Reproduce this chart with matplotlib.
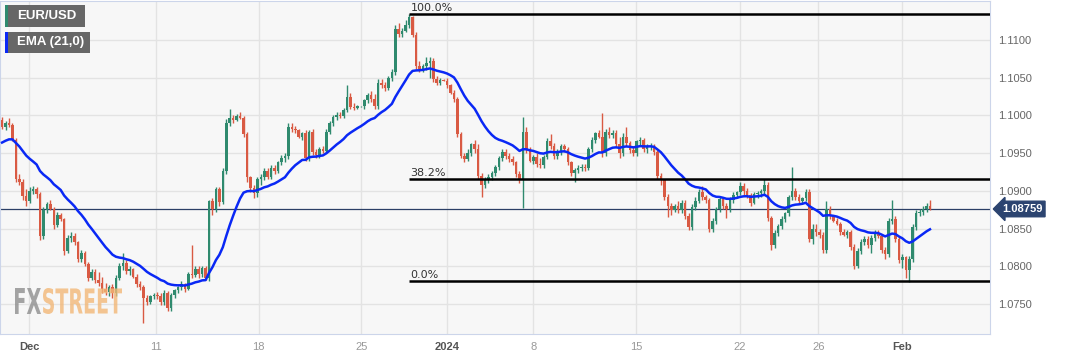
import matplotlib
matplotlib.use("Agg")
import matplotlib.pyplot as plt
import numpy as np
from matplotlib.patches import Rectangle, PathPatch
from matplotlib.textpath import TextPath
from matplotlib.font_manager import FontProperties
from matplotlib.transforms import Affine2D, IdentityTransform

# 4-hour EUR/USD candles, values in pips above 1.0000
opens = [994, 984, 990, 987, 968, 916, 912, 893, 886, 900, 902, 896, 840, 874, 882, 876, 854, 868, 862, 820,
         838, 840, 832, 810, 818, 803, 785, 792, 782, 778, 770, 766, 772, 764, 785, 800, 804, 794, 796, 786,
         776, 772, 758, 752, 760, 762, 760, 752, 765, 745, 762, 768, 772, 776, 770, 790, 788, 796, 790, 797,
         785, 886, 876, 902, 885, 926, 990, 996, 994, 999, 997, 975, 918, 904, 897, 915, 918, 926, 918, 930,
         926, 938, 944, 946, 985, 982, 980, 972, 976, 943, 978, 952, 948, 955, 953, 978, 990, 998, 1001, 999,
         1007, 1024, 1011, 1010, 1012, 1012, 1020, 1027, 1022, 1012, 1043, 1040, 1036, 1050, 1058, 1115, 1108, 1112, 1120, 1130,
         1107, 1066, 1062, 1066, 1070, 1072, 1048, 1043, 1047, 1046, 1040, 1030, 1022, 975, 946, 942, 950, 962, 956, 920,
         908, 914, 918, 924, 931, 944, 952, 946, 942, 938, 922, 914, 978, 954, 940, 945, 936, 934, 945, 966,
         960, 946, 952, 960, 956, 938, 924, 928, 930, 932, 930, 955, 968, 976, 972, 950, 978, 974, 977, 962,
         950, 972, 964, 954, 950, 966, 968, 956, 958, 960, 952, 920, 914, 892, 880, 875, 880, 874, 884, 866,
         852, 878, 887, 898, 892, 888, 850, 860, 876, 889, 880, 876, 888, 895, 898, 906, 900, 894, 884, 896,
         897, 900, 908, 864, 828, 844, 853, 862, 870, 892, 900, 892, 886, 890, 898, 836, 850, 846, 842, 822,
         876, 866, 860, 856, 846, 842, 845, 826, 800, 820, 832, 836, 828, 838, 844, 840, 822, 816, 860, 862,
         836, 808, 812, 795, 810, 852, 870, 872, 876, 880]
highs = [998, 992, 996, 990, 970, 922, 915, 902, 905, 906, 905, 898, 878, 885, 888, 878, 872, 870, 864, 842,
         845, 844, 834, 822, 820, 806, 796, 796, 792, 786, 778, 775, 776, 788, 804, 818, 808, 800, 798, 790,
         780, 775, 762, 762, 764, 766, 764, 768, 767, 765, 770, 774, 780, 778, 792, 828, 800, 800, 800, 800,
         888, 890, 905, 905, 930, 995, 1008, 1000, 1002, 1004, 999, 978, 920, 908, 918, 922, 930, 930, 934, 934,
         940, 948, 950, 990, 990, 986, 982, 978, 980, 980, 982, 956, 958, 960, 982, 992, 1000, 1004, 1005, 1010,
         1040, 1030, 1016, 1014, 1013, 1022, 1030, 1032, 1028, 1048, 1048, 1044, 1052, 1062, 1120, 1122, 1116, 1126, 1134, 1132,
         1110, 1072, 1068, 1078, 1078, 1076, 1052, 1050, 1048, 1050, 1042, 1034, 1024, 978, 950, 955, 964, 968, 962, 924,
         918, 922, 926, 934, 946, 956, 956, 950, 946, 940, 926, 998, 985, 958, 948, 950, 944, 948, 970, 975,
         964, 955, 962, 962, 958, 940, 930, 934, 936, 935, 958, 972, 978, 980, 1003, 982, 984, 980, 980, 972,
         976, 984, 966, 958, 968, 972, 970, 962, 964, 962, 954, 924, 916, 896, 884, 882, 886, 888, 888, 870,
         882, 892, 902, 906, 895, 890, 864, 878, 892, 892, 884, 892, 898, 900, 912, 910, 904, 897, 898, 900,
         902, 916, 912, 866, 848, 856, 866, 872, 894, 932, 904, 896, 892, 902, 902, 856, 856, 850, 846, 886,
         880, 868, 864, 858, 850, 848, 848, 830, 824, 836, 840, 840, 842, 848, 848, 842, 826, 864, 888, 866,
         840, 816, 814, 814, 856, 874, 876, 880, 884, 888]
lows = [982, 980, 985, 966, 912, 908, 888, 880, 884, 896, 890, 835, 836, 870, 874, 850, 852, 860, 815, 818,
        832, 828, 806, 806, 800, 780, 782, 778, 774, 765, 762, 760, 758, 760, 782, 795, 790, 788, 784, 772,
        768, 725, 748, 750, 756, 756, 748, 748, 740, 740, 758, 764, 768, 766, 768, 784, 786, 784, 786, 782,
        780, 868, 872, 880, 882, 922, 986, 990, 992, 995, 972, 912, 898, 890, 892, 908, 914, 915, 916, 922,
        924, 934, 938, 942, 978, 976, 970, 968, 940, 940, 948, 944, 944, 950, 950, 975, 986, 994, 996, 996,
        1004, 1008, 1007, 1008, 1011, 1008, 1016, 1018, 1008, 1008, 1036, 1032, 1034, 1046, 1054, 1104, 1104, 1110, 1116, 1104,
        1062, 1058, 1058, 1060, 1050, 1044, 1040, 1040, 1045, 1036, 1028, 1018, 972, 944, 938, 940, 946, 950, 916, 892,
        904, 910, 914, 920, 928, 940, 942, 938, 934, 918, 910, 877, 950, 938, 936, 932, 930, 930, 942, 956,
        942, 942, 948, 952, 934, 920, 912, 924, 926, 926, 928, 952, 964, 970, 945, 946, 970, 970, 958, 944,
        946, 960, 950, 946, 946, 960, 952, 950, 954, 948, 916, 908, 888, 865, 868, 872, 870, 870, 862, 848,
        848, 874, 884, 888, 884, 846, 846, 856, 872, 876, 864, 872, 884, 890, 894, 895, 890, 880, 882, 890,
        892, 896, 860, 822, 824, 840, 850, 858, 866, 888, 888, 882, 882, 886, 832, 830, 840, 838, 818, 818,
        862, 858, 854, 842, 840, 838, 822, 796, 797, 816, 828, 824, 818, 834, 838, 818, 810, 812, 856, 832,
        804, 798, 784, 779, 806, 848, 866, 868, 872, 874]
closes = [984, 990, 987, 968, 916, 912, 893, 886, 900, 902, 896, 840, 874, 882, 876, 854, 868, 862, 820, 838,
          840, 832, 810, 818, 803, 785, 792, 782, 778, 770, 766, 772, 764, 785, 800, 804, 794, 796, 786, 776,
          772, 758, 752, 760, 762, 760, 752, 765, 745, 762, 768, 772, 776, 770, 790, 788, 796, 790, 797, 785,
          886, 876, 902, 885, 926, 990, 996, 994, 999, 997, 975, 918, 904, 897, 915, 918, 926, 918, 930, 926,
          938, 944, 946, 985, 982, 980, 972, 976, 943, 978, 952, 948, 955, 953, 978, 990, 998, 1001, 999, 1007,
          1024, 1011, 1010, 1012, 1012, 1020, 1027, 1022, 1012, 1043, 1040, 1036, 1050, 1058, 1115, 1108, 1112, 1120, 1130, 1107,
          1066, 1062, 1066, 1070, 1072, 1048, 1043, 1047, 1046, 1040, 1030, 1022, 975, 946, 942, 950, 962, 956, 920, 908,
          914, 918, 924, 931, 944, 952, 946, 942, 938, 922, 914, 978, 954, 940, 945, 936, 934, 945, 966, 960,
          946, 952, 960, 956, 938, 924, 928, 930, 932, 930, 955, 968, 976, 972, 950, 978, 974, 977, 962, 950,
          972, 964, 954, 950, 966, 968, 956, 958, 960, 952, 920, 914, 892, 880, 875, 880, 874, 884, 866, 852,
          878, 887, 898, 892, 888, 850, 860, 876, 889, 880, 876, 888, 895, 898, 906, 900, 894, 884, 896, 897,
          900, 908, 864, 828, 844, 853, 862, 870, 892, 900, 892, 886, 890, 898, 836, 850, 846, 842, 822, 876,
          866, 860, 856, 846, 842, 845, 826, 800, 820, 832, 836, 828, 838, 844, 840, 822, 816, 860, 862, 836,
          808, 812, 795, 810, 852, 870, 872, 876, 880, 875.9]

ema_start = 962          # EMA(21) value just before the first candle
ema_period = 21
fib_high = 1134
fib_low = 780
fib_ratios = [1.0, 0.382, 0.0]
fib_labels = ["100.0%", "38.2%", "0.0%"]
fib_start = 118          # candle of the swing high

tick_pos = [7.9, 44.5, 74.4, 104.1, 129.1, 154.0, 183.8, 213.8, 236.6, 260.8]
tick_labels = ["Dec", "11", "18", "25", "2024", "8", "15", "22", "26", "Feb"]
bold_ticks = ["Dec", "2024", "Feb"]
y_ticks = [1.0750, 1.0800, 1.0850, 1.0900, 1.0950, 1.1000, 1.1050, 1.1100]

o = 1 + np.array(opens) / 10000
h = 1 + np.array(highs) / 10000
l = 1 + np.array(lows) / 10000
c = 1 + np.array(closes) / 10000
x = np.arange(len(c))

alpha = 2 / (ema_period + 1)
ema = []
prev = 1 + ema_start / 10000
for v in c:
    prev = prev + alpha * (v - prev)
    ema.append(prev)

GREEN = "#2f8a6e"
RED = "#d95a43"
W, H = 1067, 360

fig = plt.figure(figsize=(10.67, 3.6), dpi=100)
ax = fig.add_axes([0, 26 / H, 990 / W, 333 / H])
ax.set_facecolor("#f7f7f7")
ax.set_xlim(-0.6, 286.4)
ax.set_ylim(1.07101, 1.11517)

ax.set_yticks(y_ticks)
ax.set_yticklabels(["%.4f" % t for t in y_ticks])
ax.yaxis.tick_right()
ax.set_xticks(tick_pos)
ax.set_xticklabels(tick_labels)
ax.tick_params(length=0, labelsize=8, colors="#666666")
ax.tick_params(axis="y", pad=6)
ax.tick_params(axis="x", pad=6)
for t in ax.get_yticklabels() + ax.get_xticklabels():
    t.set_family("Liberation Sans")
for t in ax.get_xticklabels():
    if t.get_text() in bold_ticks:
        t.set_fontweight("bold")
        t.set_color("#555555")
    else:
        t.set_color("#999999")
ax.grid(True, color="#e3e3e3", linewidth=1)
ax.set_axisbelow(True)
for s in ax.spines.values():
    s.set_color("#ccd5ea")

colors = [GREEN if cc >= oo else RED for oo, cc in zip(o, c)]
ax.vlines(x, l, h, colors=colors, linewidth=1, zorder=2)
body_bottom = np.minimum(o, c)
body_h = np.maximum(np.abs(c - o), 0.00005)
ax.bar(x, body_h, bottom=body_bottom, width=0.74, color=colors, linewidth=0, zorder=3)

ax.plot(x, ema, color="#0a28f5", linewidth=1.8, zorder=4)

# current price line and tag
last = c[-1]
ax.axhline(last, color="#2b3f66", linewidth=0.9, zorder=1.5)
ax.text(1.012, last, "%.5f" % last, transform=ax.get_yaxis_transform(), ha="left", va="center",
        fontsize=8, fontweight="bold", color="white", family="Liberation Sans",
        bbox=dict(boxstyle="larrow,pad=0.25", fc="#2c4470", ec="#2c4470"), clip_on=False)

# fibonacci levels
for r, lab in zip(fib_ratios, fib_labels):
    lev = 1 + (fib_low + r * (fib_high - fib_low)) / 10000
    ax.hlines(lev, fib_start, 286.4, color="black", linewidth=1.8, zorder=5)
    ax.text(fib_start + 0.4, lev + 0.00012, lab, ha="left", va="bottom", fontsize=8,
            color="#333333", family="DejaVu Sans", zorder=6)

# legend boxes (pixel positions from top-left)
for (x0, y0, x1, y1, stripe, label) in [(5, 5, 85, 27, GREEN, "EUR/USD"),
                                          (5, 32, 90, 53, "#0a28f5", "EMA (21,0)")]:
    fig.patches.append(Rectangle((x0 / W, 1 - y1 / H), (x1 - x0) / W, (y1 - y0) / H,
                                 transform=fig.transFigure, fc="#676767", ec="none", zorder=10))
    fig.patches.append(Rectangle((x0 / W, 1 - y1 / H), 2.5 / W, (y1 - y0) / H,
                                 transform=fig.transFigure, fc=stripe, ec="none", zorder=11))
    fig.text(17 / W, 1 - (y0 + y1) / 2 / H, label, color="white", fontsize=9.5, va="center",
             ha="left", family="Liberation Sans", fontweight="bold", zorder=12)

# watermark, squeezed into its box
fp = FontProperties(family="DejaVu Sans", weight="bold")
for txt, col, (bx0, bx1) in [("FX", "#8e8e8e", (15, 41)), ("STREET", "#f2b878", (43, 122))]:
    tp = TextPath((0, 0), txt, size=40, prop=fp)
    ext = tp.get_extents()
    by0, by1 = H - 314, H - 288
    sx = (bx1 - bx0) / ext.width
    sy = (by1 - by0) / ext.height
    tr = Affine2D().translate(-ext.x0, -ext.y0).scale(sx, sy).translate(bx0, by0)
    patch = PathPatch(tr.transform_path(tp), fc=col, ec="none", alpha=0.8,
                      transform=IdentityTransform(), zorder=1)
    fig.patches.append(patch)

fig.savefig("out.png", dpi=100, facecolor="white")
